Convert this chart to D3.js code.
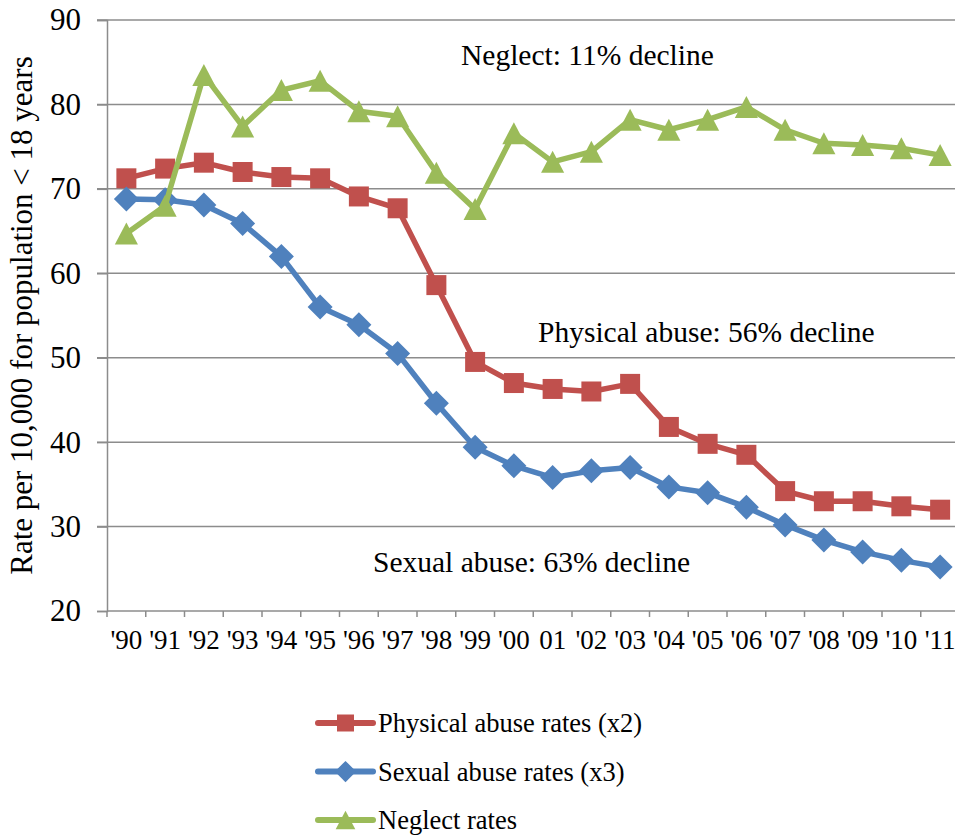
<!DOCTYPE html>
<html>
<head>
<meta charset="utf-8">
<script src="https://cdn.jsdelivr.net/npm/d3@7"></script>
<style>
    body { margin: 0; background: #fff; }
    .grid line { stroke: #8c8c8c; stroke-width: 1.5; }
    .axis path, .axis line { stroke: #8c8c8c; stroke-width: 1.5; }
    .axis text { fill: #000; }
</style>
</head>
<body>
<script>
//wrap everything in a self-executing anonymous function
(function(){

    //chart data
    var years = ["'90", "'91", "'92", "'93", "'94", "'95", "'96", "'97", "'98", "'99", "'00", "01", "'02", "'03", "'04", "'05", "'06", "'07", "'08", "'09", "'10", "'11"];
    var physical = [71.25, 72.4, 73.1, 72.0, 71.4, 71.25, 69.1, 67.7, 58.6, 49.5, 47.0, 46.3, 46.0, 46.9, 41.8, 39.8, 38.5, 34.2, 33.0, 33.0, 32.4, 32.0];
    var sexual = [68.8, 68.7, 68.1, 65.9, 62.0, 56.0, 53.9, 50.5, 44.6, 39.4, 37.2, 35.8, 36.6, 37.0, 34.7, 34.0, 32.3, 30.2, 28.4, 27.0, 26.0, 25.2];
    var neglect = [64.7, 68.0, 83.5, 77.4, 81.7, 82.8, 79.2, 78.6, 71.9, 67.6, 76.6, 73.2, 74.4, 78.2, 77.0, 78.2, 79.7, 77.0, 75.4, 75.2, 74.8, 74.0];
    var yTicks = [20, 30, 40, 50, 60, 70, 80, 90];
    var seriesNames = ["Physical abuse rates (x2)", "Sexual abuse rates (x3)", "Neglect rates"];
    var notes = ["Neglect: 11% decline", "Physical abuse: 56% decline", "Sexual abuse: 63% decline"];

    var series = [
        {name: seriesNames[0], values: physical, color: "#c0504d", marker: "square"},
        {name: seriesNames[1], values: sexual, color: "#4f81bd", marker: "diamond"},
        {name: seriesNames[2], values: neglect, color: "#9bbb59", marker: "triangle"}
    ];

    var serif = "'Liberation Serif', 'Times New Roman', serif";

    //frame dimensions
    var width = 955,
        height = 835,
        left = 107,
        right = 959.5, //plot runs a little past the picture edge
        top = 20,
        bottom = 611;

    var svg = d3.select("body")
        .append("svg")
        .attr("width", width)
        .attr("height", height);

    //scales
    var x = d3.scaleBand()
        .domain(years)
        .range([left, right]);

    var y = d3.scaleLinear()
        .domain([20, 90])
        .range([bottom, top]);

    //horizontal gridlines
    svg.append("g")
        .attr("class", "grid")
        .selectAll("line")
        .data(yTicks.slice(1))
        .enter()
        .append("line")
        .attr("x1", left - 10)
        .attr("x2", right)
        .attr("y1", function(d){ return y(d); })
        .attr("y2", function(d){ return y(d); });

    //vertical axis
    var yAxis = d3.axisLeft(y)
        .tickValues(yTicks)
        .tickSize(10)
        .tickPadding(16);

    var yg = svg.append("g")
        .attr("class", "axis")
        .attr("transform", "translate(" + left + ",0)")
        .call(yAxis);

    yg.selectAll("text")
        .style("font-family", serif)
        .style("font-size", "31px");

    //horizontal axis, ticks sit between categories
    var xAxis = d3.axisBottom(x)
        .tickSize(0)
        .tickPadding(0);

    var xg = svg.append("g")
        .attr("class", "axis")
        .attr("transform", "translate(0," + bottom + ")")
        .call(xAxis);

    xg.select(".domain").attr("d", "M" + left + ",0H" + right);
    xg.selectAll("text")
        .attr("dy", null)
        .attr("y", 38)
        .style("font-family", serif)
        .style("font-size", "27px");

    xg.selectAll(".sep")
        .data(years)
        .enter()
        .append("line")
        .attr("class", "sep")
        .attr("x1", function(d){ return x(d); })
        .attr("x2", function(d){ return x(d); })
        .attr("y1", 0)
        .attr("y2", 6);

    //axis title
    svg.append("text")
        .attr("transform", "translate(32," + ((top + bottom) / 2) + ") rotate(-90)")
        .attr("text-anchor", "middle")
        .style("font-family", serif)
        .style("font-size", "31px")
        .text("Rate per 10,000 for population < 18 years");

    //marker shapes centred on a point
    function markerPath(type, s){
        var h = s / 2;
        if (type == "square") {
            return "M" + (-h) + "," + (-h) + "H" + h + "V" + h + "H" + (-h) + "Z";
        } else if (type == "diamond") {
            return "M0," + (-h) + "L" + h + ",0L0," + h + "L" + (-h) + ",0Z";
        } else {
            return "M0," + (-h) + "L" + (h * 1.05) + "," + h + "L" + (-h * 1.05) + "," + h + "Z";
        }
    };
    var markerSize = {square: 20, diamond: 25, triangle: 22};

    var line = d3.line()
        .x(function(d, i){ return x(years[i]) + x.bandwidth() / 2; })
        .y(function(d){ return y(d); });

    //lines and markers for each series
    series.forEach(function(s){
        var g = svg.append("g").attr("class", "series");

        g.append("path")
            .datum(s.values)
            .attr("fill", "none")
            .attr("stroke", s.color)
            .attr("stroke-width", 5.5)
            .attr("stroke-linejoin", "round")
            .attr("d", line);

        g.selectAll(".marker")
            .data(s.values)
            .enter()
            .append("path")
            .attr("class", "marker")
            .attr("fill", s.color)
            .attr("transform", function(d, i){
                return "translate(" + (x(years[i]) + x.bandwidth() / 2) + "," + y(d) + ")";
            })
            .attr("d", markerPath(s.marker, markerSize[s.marker]));
    });

    //annotations
    var notePos = [[461, 65], [538, 342], [373, 572]];
    svg.selectAll(".note")
        .data(notes)
        .enter()
        .append("text")
        .attr("class", "note")
        .attr("x", function(d, i){ return notePos[i][0]; })
        .attr("y", function(d, i){ return notePos[i][1]; })
        .style("font-family", serif)
        .style("font-size", "29.5px")
        .text(function(d){ return d; });

    //legend
    var legend = svg.selectAll(".legend")
        .data(series)
        .enter()
        .append("g")
        .attr("class", "legend")
        .attr("transform", function(d, i){
            return "translate(318," + (723 + i * 48.5) + ")";
        });

    legend.append("line")
        .attr("x1", 0)
        .attr("x2", 55)
        .attr("stroke", function(d){ return d.color; })
        .attr("stroke-width", 6)
        .attr("stroke-linecap", "round");

    legend.append("path")
        .attr("transform", "translate(27.5,0)")
        .attr("fill", function(d){ return d.color; })
        .attr("d", function(d){ return markerPath(d.marker, markerSize[d.marker] * 0.85); });

    legend.append("text")
        .attr("x", 60)
        .attr("dy", "0.35em")
        .style("font-family", serif)
        .style("font-size", "26.5px")
        .text(function(d){ return d.name; });

})();
</script>
</body>
</html>
